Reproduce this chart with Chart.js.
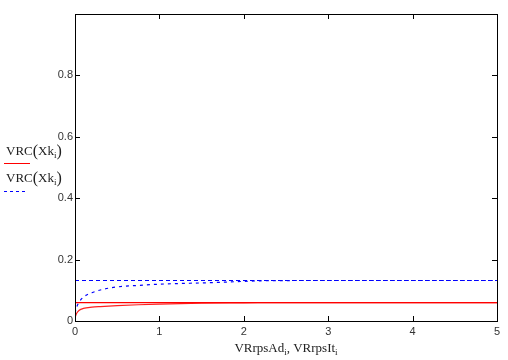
<!DOCTYPE html>
<html>
<head>
<meta charset="utf-8">
<script src="https://cdn.jsdelivr.net/npm/chart.js@4/dist/chart.umd.min.js"></script>
<style>
  html, body { margin: 0; padding: 0; background: #fff; }
  #wrap { position: relative; width: 508px; height: 360px; }
  canvas { display: block; }
</style>
</head>
<body>
<div id="wrap"><canvas id="c" width="508" height="360"></canvas></div>
<script>
// ---- data ----
const xTicks = [0, 1, 2, 3, 4, 5];
const yTicks = [0, 0.2, 0.4, 0.6, 0.8];

const redFlatX = [0, 5];
const redFlatY = [0.060, 0.060];

const redCurveX = [0, 0.02, 0.05, 0.1, 0.2, 0.3, 0.5, 0.75, 1, 1.5, 2, 2.5, 3, 4, 5];
const redCurveY = [0.012, 0.025, 0.035, 0.041, 0.045, 0.047, 0.050, 0.053, 0.055, 0.058, 0.059, 0.060, 0.060, 0.060, 0.060];

const blueFlatX = [0, 5];
const blueFlatY = [0.132, 0.132];

const blueCurveX = [0, 0.02, 0.05, 0.1, 0.2, 0.3, 0.4, 0.5, 0.75, 1, 1.5, 2, 2.2, 3, 4, 5];
const blueCurveY = [0.025, 0.045, 0.062, 0.078, 0.092, 0.101, 0.107, 0.111, 0.116, 0.120, 0.124, 0.129, 0.131, 0.132, 0.132, 0.132];

const toPts = (xs, ys) => xs.map((x, i) => ({ x: x, y: ys[i] }));

const serif = '"Liberation Serif", "DejaVu Serif", serif';
const sans = '"Liberation Sans", Arial, sans-serif';

// draws frame, inward ticks, left legend labels and x title
const decor = {
  id: 'decor',
  afterDraw(chart) {
    const ctx = chart.ctx;
    const a = chart.chartArea;
    const xs = chart.scales.x, ys = chart.scales.y;
    ctx.save();
    ctx.strokeStyle = '#000';
    ctx.lineWidth = 1;
    ctx.strokeRect(Math.round(a.left) + 0.5, Math.round(a.top) + 0.5,
                   Math.round(a.right - a.left), Math.round(a.bottom - a.top));
    const tl = 5;
    ctx.beginPath();
    xTicks.forEach(v => {
      if (v === 0 || v === 5) return;
      const px = Math.round(xs.getPixelForValue(v)) + 0.5;
      ctx.moveTo(px, a.bottom); ctx.lineTo(px, a.bottom - tl);
      ctx.moveTo(px, a.top); ctx.lineTo(px, a.top + tl);
    });
    yTicks.forEach(v => {
      if (v === 0) return;
      const py = Math.round(ys.getPixelForValue(v)) + 0.5;
      ctx.moveTo(a.left, py); ctx.lineTo(a.left + tl, py);
      ctx.moveTo(a.right, py); ctx.lineTo(a.right - tl, py);
    });
    ctx.stroke();

    // legend-like labels at the left
    function vrc(x, y) {
      ctx.fillStyle = '#222';
      ctx.textAlign = 'left';
      ctx.textBaseline = 'alphabetic';
      ctx.font = '13px ' + serif;
      let t = 'VRC';
      ctx.fillText(t, x, y); x += ctx.measureText(t).width;
      ctx.font = '16px ' + serif;
      ctx.fillText('(', x, y + 1); x += ctx.measureText('(').width;
      ctx.font = '13px ' + serif;
      ctx.fillText('Xk', x, y); x += ctx.measureText('Xk').width;
      ctx.font = '9px ' + serif;
      ctx.fillText('i', x, y + 3); x += ctx.measureText('i').width;
      ctx.font = '16px ' + serif;
      ctx.fillText(')', x, y + 1);
    }
    vrc(6, 155);
    ctx.strokeStyle = '#ff0000';
    ctx.lineWidth = 1;
    ctx.beginPath(); ctx.moveTo(4, 163.5); ctx.lineTo(30, 163.5); ctx.stroke();
    vrc(6, 182);
    ctx.strokeStyle = '#0000ff';
    ctx.setLineDash([3, 3]);
    ctx.beginPath(); ctx.moveTo(4, 191.5); ctx.lineTo(26, 191.5); ctx.stroke();
    ctx.setLineDash([]);

    // x axis title
    const parts = [['VRrpsAd', 13, 0], ['i', 9, 3], [', VRrpsIt', 13, 0], ['i', 9, 3]];
    let w = 0;
    parts.forEach(p => { ctx.font = p[1] + 'px ' + serif; w += ctx.measureText(p[0]).width; });
    let x = (a.left + a.right) / 2 - w / 2;
    ctx.fillStyle = '#222';
    parts.forEach(p => {
      ctx.font = p[1] + 'px ' + serif;
      ctx.fillText(p[0], x, 352 + p[2]);
      x += ctx.measureText(p[0]).width;
    });
    ctx.restore();
  }
};

new Chart(document.getElementById('c'), {
  type: 'line',
  data: {
    datasets: [
      { data: toPts(redFlatX, redFlatY), borderColor: '#ff0000', borderWidth: 1.2, pointRadius: 0, tension: 0 },
      { data: toPts(redCurveX, redCurveY), borderColor: '#ff2020', borderWidth: 1.2, pointRadius: 0, cubicInterpolationMode: 'monotone' },
      { data: toPts(blueFlatX, blueFlatY), borderColor: '#0000ff', borderWidth: 1.2, borderDash: [4, 3], pointRadius: 0, tension: 0 },
      { data: toPts(blueCurveX, blueCurveY), borderColor: '#0000ff', borderWidth: 1.2, borderDash: [3, 4], pointRadius: 0, cubicInterpolationMode: 'monotone' }
    ]
  },
  options: {
    responsive: false,
    animation: false,
    devicePixelRatio: 1,
    layout: { padding: { left: 0, top: 14, right: 11, bottom: 0 } },
    plugins: { legend: { display: false }, tooltip: { enabled: false } },
    scales: {
      x: {
        type: 'linear', min: 0, max: 5,
        grid: { display: false, drawTicks: false },
        border: { display: false },
        afterFit(s) { s.height = 39; },
        afterBuildTicks(s) { s.ticks = xTicks.map(v => ({ value: v })); },
        ticks: { color: '#333', font: { family: sans, size: 11 }, padding: 4, maxRotation: 0,
                 callback: v => String(v) }
      },
      y: {
        type: 'linear', min: 0, max: 1,
        grid: { display: false, drawTicks: false },
        border: { display: false },
        afterFit(s) { s.width = 75; },
        afterBuildTicks(s) { s.ticks = yTicks.map(v => ({ value: v })); },
        ticks: { color: '#333', font: { family: sans, size: 11 }, padding: 2,
                 callback: v => (v === 0 ? '0' : (Math.round(v * 10) / 10).toFixed(1)) }
      }
    }
  },
  plugins: [decor]
});
</script>
</body>
</html>
